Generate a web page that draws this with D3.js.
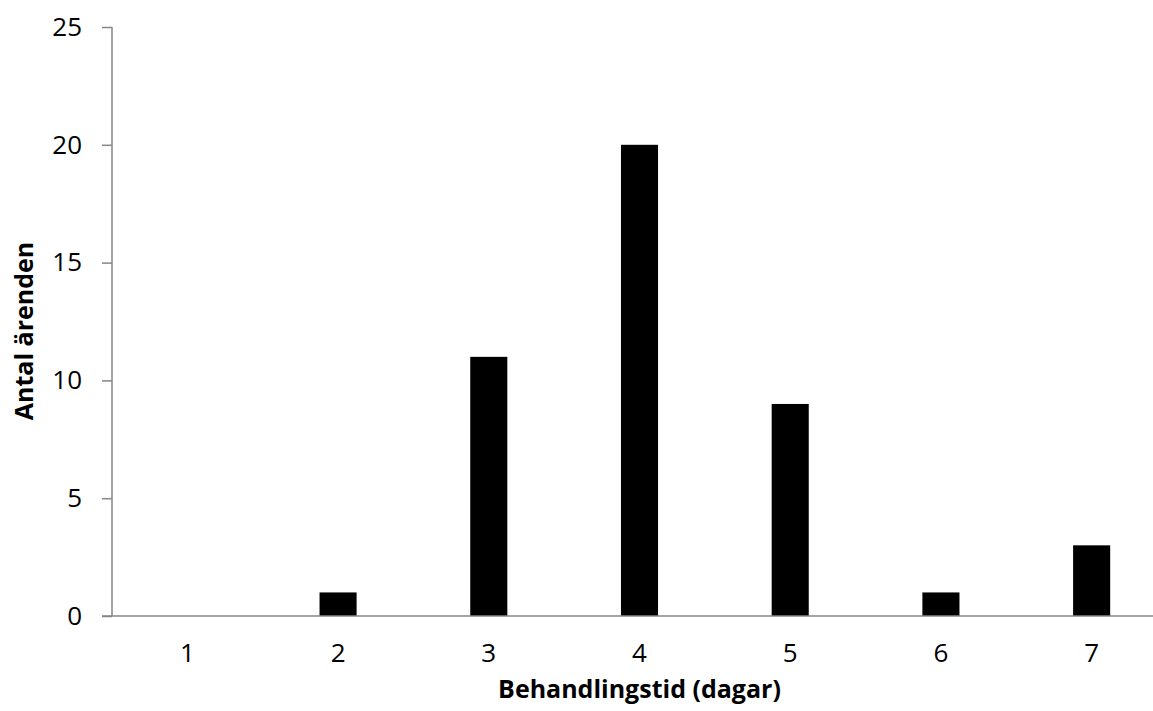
<!DOCTYPE html>
<html>
<head>
<meta charset="utf-8">
<script src="https://cdnjs.cloudflare.com/ajax/libs/d3/7.8.5/d3.min.js"></script>
<style>
  body { margin: 0; background: #fff; }
  text { font-family: "Open Sans", "DejaVu Sans", sans-serif; fill: #000; }
  .label { font-weight: bold; font-size: 25px; }
</style>
</head>
<body>
<svg id="chart"></svg>
<script>
var days = ["1", "2", "3", "4", "5", "6", "7"];
var cases = [0, 1, 11, 20, 9, 1, 3];
var yTicks = [0, 5, 10, 15, 20, 25];

var screen = {width: 1153, height: 711};
var plot = {left: 112, right: 1167, top: 27, bottom: 616};

var svg = d3.select("#chart")
    .attr("width", screen.width)
    .attr("height", screen.height);

var xScale = d3.scaleBand()
    .domain(days)
    .range([plot.left, plot.right])
    .paddingInner(0.754)
    .paddingOuter(0.377);

var yScale = d3.scaleLinear()
    .domain([0, 25])
    .range([plot.bottom, plot.top]);

var axisColor = "#868686";

// y axis
var yAxis = svg.append("g")
    .attr("transform", "translate(" + plot.left + ",0)")
    .call(d3.axisLeft(yScale).tickValues(yTicks).tickSize(10).tickPadding(20));
yAxis.select(".domain").attr("stroke", axisColor).attr("stroke-width", 1.5)
    .attr("d", "M0," + plot.top + "V" + plot.bottom);
yAxis.selectAll(".tick line").attr("stroke", axisColor).attr("stroke-width", 1.5);
yAxis.selectAll(".tick text").style("font-size", "26px");

// bars
svg.append("g").selectAll("rect")
    .data(cases)
    .enter()
    .append("rect")
    .attr("x", function(d, i) { return xScale(days[i]); })
    .attr("y", function(d) { return yScale(d); })
    .attr("width", xScale.bandwidth())
    .attr("height", function(d) { return plot.bottom - yScale(d); })
    .style("fill", "#000");

// x axis
var xAxis = svg.append("g")
    .attr("transform", "translate(0," + plot.bottom + ")")
    .call(d3.axisBottom(xScale).tickSize(0).tickPadding(28));
xAxis.select(".domain").attr("stroke", axisColor).attr("stroke-width", 1.5)
    .attr("d", "M" + (plot.left - 10) + ",0H" + plot.right);
xAxis.selectAll(".tick text").style("font-size", "26px");

// titles
svg.append("text")
    .classed("label", true)
    .attr("text-anchor", "middle")
    .attr("x", xScale("4") + xScale.bandwidth() / 2)
    .attr("y", 698)
    .text("Behandlingstid (dagar)");

svg.append("text")
    .classed("label", true)
    .attr("text-anchor", "middle")
    .attr("transform", "translate(33,331) rotate(-90)")
    .text("Antal ärenden");
</script>
</body>
</html>
